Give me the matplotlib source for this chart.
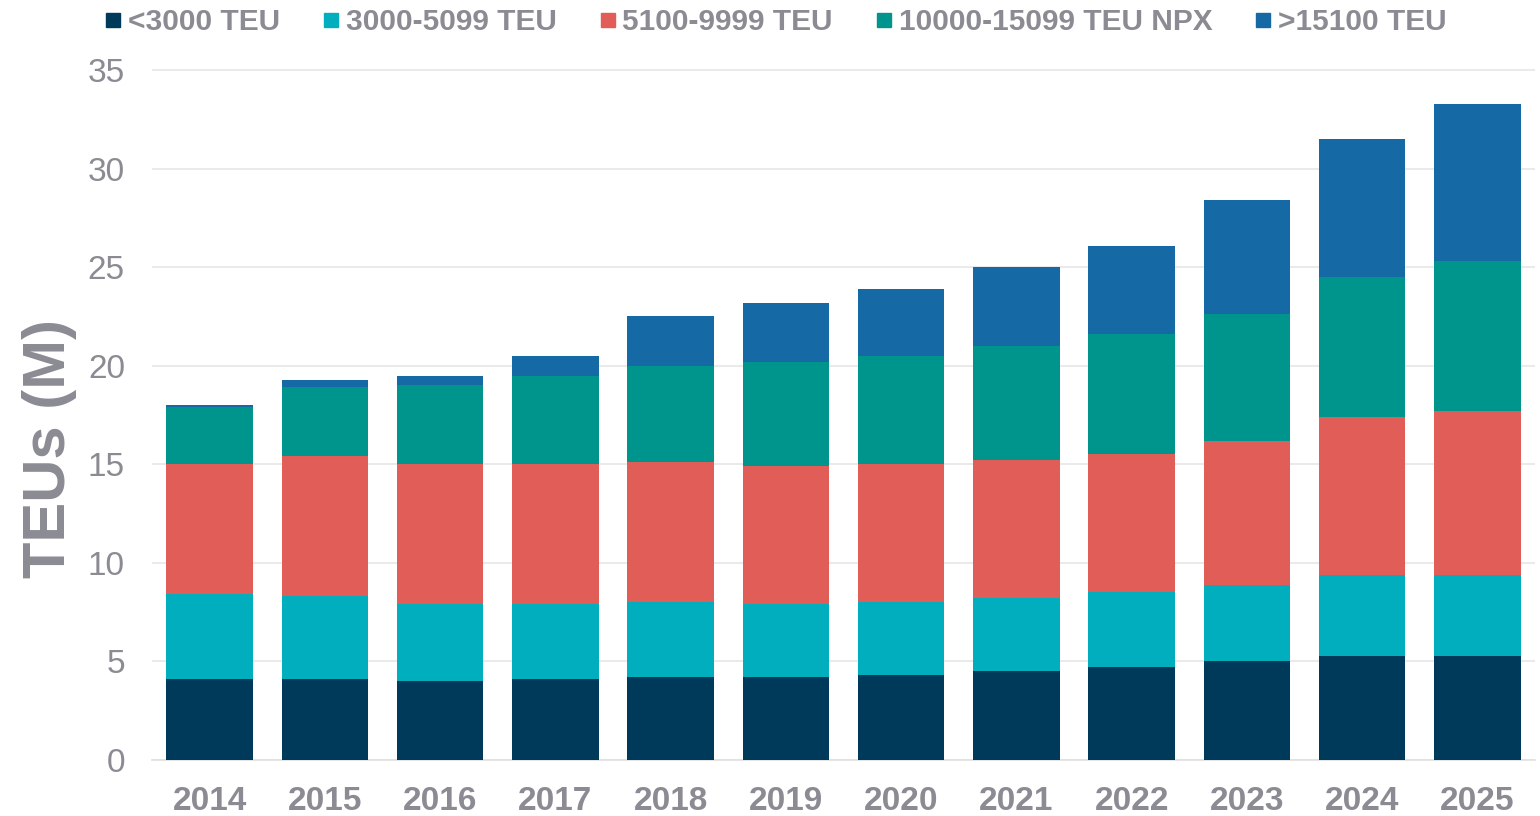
import numpy as np
import matplotlib
matplotlib.use("Agg")
import matplotlib.pyplot as plt
from matplotlib.lines import Line2D

plt.rcParams['font.family'] = ['Liberation Sans', 'DejaVu Sans']

years = ['2014', '2015', '2016', '2017', '2018', '2019',
         '2020', '2021', '2022', '2023', '2024', '2025']
labels = ['<3000 TEU', '3000-5099 TEU', '5100-9999 TEU',
          '10000-15099 TEU NPX', '>15100 TEU']
small = [4.1, 4.1, 4.0, 4.1, 4.2, 4.2, 4.3, 4.5, 4.7, 5.0, 5.3, 5.3]
mid = [4.3, 4.2, 3.9, 3.8, 3.8, 3.7, 3.7, 3.7, 3.8, 3.9, 4.1, 4.1]
large = [6.6, 7.1, 7.1, 7.1, 7.1, 7.0, 7.0, 7.0, 7.0, 7.3, 8.0, 8.3]
npx = [2.9, 3.5, 4.0, 4.5, 4.9, 5.3, 5.5, 5.8, 6.1, 6.4, 7.1, 7.6]
ulcv = [0.1, 0.4, 0.5, 1.0, 2.5, 3.0, 3.4, 4.0, 4.5, 5.8, 7.0, 8.0]
colors = ['#003a5b', '#00aebd', '#e05e57', '#00958c', '#1569a5']

gray = '#8b8b93'

fig = plt.figure(figsize=(15.4, 8.16), dpi=100)
ax = fig.add_axes([0.0987, 0.0686, 0.8981, 0.8528])

x = np.arange(len(years))
bottom = np.zeros(len(years))
for vals, col, lab in zip([small, mid, large, npx, ulcv], colors, labels):
    ax.bar(x, vals, width=0.75, bottom=bottom, color=col, label=lab, zorder=3)
    bottom += np.array(vals)

ax.set_xlim(-0.5, len(years) - 0.5)
ax.set_ylim(0, 35.3)
ax.set_yticks(range(0, 36, 5))
ax.set_xticks(x)
ax.set_xticklabels(years, fontsize=24, fontweight='bold', color=gray)
ax.tick_params(axis='y', labelsize=24, labelcolor=gray, length=0, pad=19.5)
ax.tick_params(axis='x', length=0, pad=19)
ax.grid(axis='y', color='#e6e6e6', linewidth=1.2, zorder=0)
for s in ['top', 'right', 'left']:
    ax.spines[s].set_visible(False)
ax.spines['bottom'].set_color('#e0e0e0')
ax.spines['bottom'].set_linewidth(1.2)

ax.set_ylabel('TEUs (M)', fontsize=43, fontweight='bold', color=gray)
ax.yaxis.set_label_coords(-0.054, 0.448)

handles = [Line2D([], [], marker='s', linestyle='none', markersize=10.5,
                  markerfacecolor=c, markeredgecolor=c) for c in colors]
fig.legend(handles, labels, loc='center', bbox_to_anchor=(0.504, 0.973), ncol=5,
           frameon=False, handlelength=0.5, handletextpad=0.25, columnspacing=1.45,
           prop={'size': 21.5, 'weight': 'bold'}, labelcolor=gray)

fig.savefig('out.png', dpi=100)
